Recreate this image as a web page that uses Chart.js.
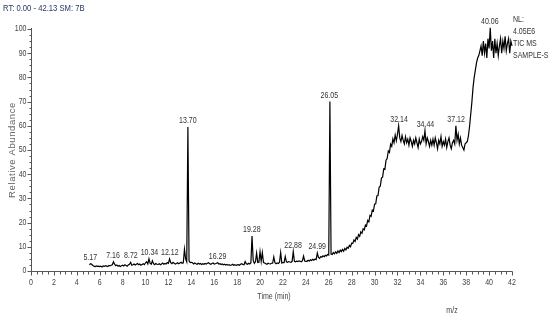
<!DOCTYPE html>
<html>
<head>
<meta charset="utf-8">
<title>TIC chromatogram</title>
<script src="https://cdn.jsdelivr.net/npm/chart.js@4.4.1/dist/chart.umd.min.js"></script>
<style>
  html, body { margin: 0; padding: 0; background: #fff; }
  #wrap { width: 550px; height: 318px; }
</style>
</head>
<body>
<div id="wrap"><canvas id="tic" width="550" height="318"></canvas></div>
<script>
// Retention time axis: one reading every 0.1 min starting at 5.1 min
const startTime = 5.1;
const timeStep = 0.1;

// Relative abundance (%), one row per minute
const abundance = [
  2.6, 3.0, 2.8, 2.3, 2.0, 1.8, 2.1, 1.9, 2.0, 1.8,        // 5.1 - 6.0
  2.0, 1.7, 2.1, 1.9, 2.2, 2.0, 1.8, 2.3, 2.1, 2.4,        // 6.1 - 7.0
  2.6, 3.8, 2.8, 2.2, 2.5, 2.0, 2.3, 1.9, 2.2, 2.4,        // 7.1 - 8.0
  2.1, 2.6, 2.3, 2.0, 2.5, 2.8, 3.6, 2.4, 2.6, 2.9,        // 8.1 - 9.0
  2.5, 2.8, 3.1, 2.6, 2.9, 2.4, 2.7, 3.0, 2.6, 3.4,        // 9.1 - 10.0
  3.8, 2.9, 5.0, 3.2, 2.8, 4.2, 3.0, 2.6, 3.1, 2.8,        // 10.1 - 11.0
  2.7, 3.0, 2.6, 2.9, 3.3, 2.8, 3.1, 2.9, 3.5, 3.2,        // 11.1 - 12.0
  5.0, 3.4, 3.0, 3.6, 3.2, 2.9, 3.1, 3.4, 3.0, 3.3,        // 12.1 - 13.0
  3.6, 3.2, 3.4, 9.0, 5.0, 3.8, 59.5, 4.2, 3.5, 3.6,       // 13.1 - 14.0
  3.4, 2.9, 3.3, 3.0, 2.8, 3.2, 2.9, 3.1, 2.7, 3.0,        // 14.1 - 15.0
  2.8, 3.1, 2.9, 3.2, 3.4, 3.0, 2.8, 3.1, 3.3, 2.9,        // 15.1 - 16.0
  3.0, 3.2, 3.4, 2.9, 3.0, 2.7, 2.9, 2.6, 2.8, 2.5,        // 16.1 - 17.0
  2.7, 2.4, 2.6, 2.3, 2.5, 2.8, 2.4, 2.6, 2.3, 2.5,        // 17.1 - 18.0
  2.6, 2.4, 2.8, 3.0, 2.7, 2.6, 3.9, 3.0, 2.8, 3.2,        // 18.1 - 19.0
  2.9, 3.4, 14.5, 4.5, 3.2, 3.8, 7.4, 3.5, 3.6, 8.0,       // 19.1 - 20.0
  4.0, 7.6, 3.5, 3.3, 3.0, 2.8, 3.2, 3.0, 2.9, 3.2,        // 20.1 - 21.0
  3.2, 5.8, 3.4, 3.0, 3.3, 3.1, 3.6, 7.6, 3.3, 3.5,        // 21.1 - 22.0
  3.5, 6.0, 3.8, 3.6, 3.9, 3.7, 3.6, 4.0, 8.0, 4.0,        // 22.1 - 23.0
  3.8, 4.1, 3.9, 4.2, 4.0, 3.8, 4.3, 6.2, 4.1, 4.0,        // 23.1 - 24.0
  4.0, 4.4, 4.1, 4.6, 4.3, 4.8, 4.5, 5.0, 4.7, 7.4,        // 24.1 - 25.0
  5.6, 5.2, 6.0, 5.7, 6.3, 5.9, 6.5, 6.2, 6.8, 6.6,        // 25.1 - 26.0
  70.0, 7.0, 6.8, 7.6, 7.1, 7.9, 7.3, 8.3, 7.6, 8.6,       // 26.1 - 27.0
  8.0, 8.9, 8.2, 9.3, 8.7, 9.8, 9.4, 10.6, 10.0, 11.5,     // 27.1 - 28.0
  11.4, 12.8, 12.2, 13.9, 13.2, 15.0, 14.3, 16.2, 15.6, 17.4, // 28.1 - 29.0
  17.0, 19.0, 18.6, 20.9, 20.3, 23.0, 22.6, 25.2, 24.8, 27.6, // 29.1 - 30.0
  27.8, 31.0, 31.2, 34.6, 35.0, 38.4, 38.8, 42.2, 42.0, 45.8, // 30.1 - 31.0
  46.5, 49.6, 49.0, 52.4, 51.5, 54.6, 53.0, 56.2, 53.8, 56.5, // 31.1 - 32.0
  60.0, 55.0, 53.5, 56.0, 54.0, 52.5, 55.5, 53.0, 54.5, 52.0, // 32.1 - 33.0
  55.0, 53.5, 51.5, 54.0, 52.5, 55.0, 53.0, 51.0, 54.5, 52.5, // 33.1 - 34.0
  53.5, 55.5, 54.0, 58.0, 52.5, 55.0, 53.5, 51.5, 54.0, 52.0, // 34.1 - 35.0
  54.5, 52.0, 55.0, 53.0, 50.5, 54.0, 52.5, 55.5, 51.5, 53.5, // 35.1 - 36.0
  52.0, 54.5, 51.0, 53.5, 55.0, 52.0, 50.5, 53.0, 54.0, 52.5, // 36.1 - 37.0
  60.0, 54.0, 56.5, 52.5, 55.0, 52.0, 51.0, 50.0, 52.5, 53.0, // 37.1 - 38.0
  53.5, 56.0, 60.0, 65.0, 70.0, 76.0, 80.0, 83.0, 86.0, 88.0, // 38.1 - 39.0
  89.0, 91.0, 93.0, 89.0, 95.0, 90.0, 94.0, 88.0, 96.0, 92.0, // 39.1 - 40.0
  100.5, 91.0, 95.0, 88.0, 96.0, 90.0, 94.0, 89.0, 93.0, 96.0, // 40.1 - 41.0
  90.0, 95.0, 92.0, 97.0, 91.0, 94.0, 96.0, 90.0, 95.0, 93.0   // 41.1 - 42.0
];

// Annotated peaks (retention times printed above the trace)
const peakTimes = [5.17, 7.16, 8.72, 10.34, 12.12, 13.70, 16.29, 19.28, 22.88, 24.99, 26.05, 32.14, 34.44, 37.12, 40.06];
const peakLabels = ['5.17', '7.16', '8.72', '10.34', '12.12', '13.70', '16.29', '19.28', '22.88', '24.99', '26.05', '32.14', '34.44', '37.12', '40.06'];

// Axis ticks
const xTickLabels = [0, 2, 4, 6, 8, 10, 12, 14, 16, 18, 20, 22, 24, 26, 28, 30, 32, 34, 36, 38, 40, 42];
const yTickLabels = [0, 10, 20, 30, 40, 50, 60, 70, 80, 90, 100];

// Header / side notes
const headerText = 'RT: 0.00 - 42.13 SM: 7B';
const noteLines = ['NL:', '4.05E6', 'TIC MS', 'SAMPLE-S'];

const SANS = '"Liberation Sans", Arial, sans-serif';

const points = abundance.map((v, i) => ({ x: +(startTime + i * timeStep).toFixed(2), y: v }));

// find the highest reading close to a labelled retention time
function peakHeight(t) {
  let best = 0;
  points.forEach(p => {
    if (Math.abs(p.x - t) <= 0.12 && p.y > best) best = p.y;
  });
  return best;
}

// no narrow font installed, so squeeze the regular one horizontally
function narrowText(ctx, text, x, y, squeeze) {
  ctx.save();
  ctx.translate(x, y);
  ctx.scale(squeeze || 0.78, 1);
  ctx.fillText(text, 0, 0);
  ctx.restore();
}

// Draws the axes, ticks and all the text in the Xcalibur style
const msAxes = {
  id: 'msAxes',
  afterDraw(chart) {
    const ctx = chart.ctx;
    const xs = chart.scales.x;
    const ys = chart.scales.y;
    const area = chart.chartArea;
    const left = Math.round(area.left) + 0.5;
    const bottom = Math.round(area.bottom) + 0.5;

    ctx.save();
    ctx.strokeStyle = '#555';
    ctx.lineWidth = 1;

    // axis lines
    ctx.beginPath();
    ctx.moveTo(left, ys.getPixelForValue(100) - 1);
    ctx.lineTo(left, bottom);
    ctx.lineTo(xs.getPixelForValue(42) + 0.5, bottom);
    ctx.stroke();

    // x ticks, minor every 0.5 min
    ctx.beginPath();
    for (let v = 0; v <= 42; v += 0.5) {
      const px = Math.round(xs.getPixelForValue(v)) + 0.5;
      const len = (v % 2 === 0) ? 4 : 3;
      ctx.moveTo(px, bottom);
      ctx.lineTo(px, bottom + len);
    }
    // y ticks, minor every 2.5 %
    for (let v = 0; v <= 100; v += 2.5) {
      const py = Math.round(ys.getPixelForValue(v)) + 0.5;
      const len = (v % 10 === 0) ? 4 : 2;
      ctx.moveTo(left, py);
      ctx.lineTo(left - len, py);
    }
    ctx.stroke();

    // tick labels
    ctx.fillStyle = '#444';
    ctx.font = '9px ' + SANS;
    ctx.textAlign = 'center';
    ctx.textBaseline = 'middle';
    xTickLabels.forEach(v => {
      narrowText(ctx, String(v), xs.getPixelForValue(v), bottom + 11);
    });
    ctx.textAlign = 'right';
    yTickLabels.forEach(v => {
      narrowText(ctx, String(v), left - 5, ys.getPixelForValue(v));
    });

    // axis titles
    ctx.textAlign = 'center';
    narrowText(ctx, 'Time (min)', 274, 297);
    narrowText(ctx, 'm/z', 452, 311);

    ctx.save();
    ctx.translate(12, 150);
    ctx.rotate(-Math.PI / 2);
    ctx.font = '9.5px ' + SANS;
    ctx.letterSpacing = '0.6px';
    ctx.fillStyle = '#666';
    ctx.fillText('Relative Abundance', 0, 0);
    ctx.restore();

    // header
    ctx.textAlign = 'left';
    ctx.fillStyle = '#2b3566';
    narrowText(ctx, headerText, 3, 9, 0.85);

    // NL block on the right
    ctx.fillStyle = '#333';
    noteLines.forEach((s, i) => {
      narrowText(ctx, s, 513, 20 + i * 11.7);
    });

    // peak annotations
    ctx.textAlign = 'center';
    ctx.textBaseline = 'bottom';
    peakTimes.forEach((t, i) => {
      const px = xs.getPixelForValue(t);
      const py = ys.getPixelForValue(peakHeight(t));
      narrowText(ctx, peakLabels[i], px, py - 2);
    });

    ctx.restore();
  }
};

new Chart(document.getElementById('tic'), {
  type: 'line',
  data: {
    datasets: [{
      label: 'TIC MS',
      data: points,
      borderColor: '#000',
      borderWidth: 1.2,
      pointRadius: 0,
      tension: 0,
      fill: false,
      clip: false
    }]
  },
  options: {
    responsive: false,
    animation: false,
    layout: { padding: { left: 31, top: 29, right: 38, bottom: 47 } },
    plugins: {
      legend: { display: false },
      tooltip: { enabled: false }
    },
    scales: {
      x: { type: 'linear', min: 0, max: 42, display: false },
      y: { min: 0, max: 100, display: false }
    }
  },
  plugins: [msAxes]
});
</script>
</body>
</html>
